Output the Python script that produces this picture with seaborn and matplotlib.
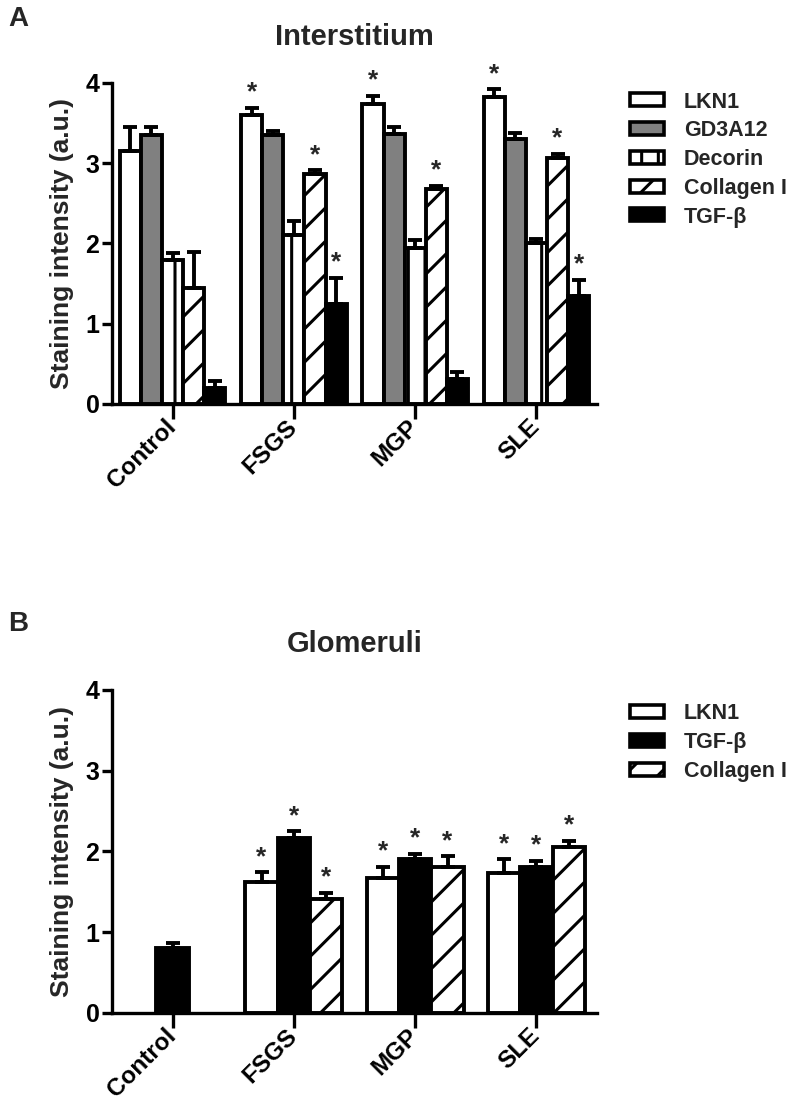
import numpy as np
import pandas as pd
import matplotlib
matplotlib.use("Agg")
import matplotlib.pyplot as plt
from matplotlib.patches import Patch
import seaborn as sns

# Panel A: interstitium
groups = ["Control", "FSGS", "MGP", "SLE"]
markers_a = ["LKN1", "GD3A12", "Decorin", "Collagen I", "TGF-β"]
lkn1_a = [3.15, 3.60, 3.74, 3.83]
lkn1_a_err = [0.30, 0.09, 0.10, 0.09]
gd3a12_a = [3.35, 3.35, 3.37, 3.30]
gd3a12_a_err = [0.10, 0.05, 0.08, 0.08]
decorin_a = [1.80, 2.10, 1.94, 2.00]
decorin_a_err = [0.08, 0.18, 0.10, 0.06]
collagen_a = [1.45, 2.87, 2.68, 3.07]
collagen_a_err = [0.44, 0.04, 0.04, 0.05]
tgf_a = [0.20, 1.25, 0.31, 1.35]
tgf_a_err = [0.09, 0.32, 0.09, 0.20]
# significance flags (1 = asterisk)
sig_a = {
    "LKN1": [0, 1, 1, 1],
    "GD3A12": [0, 0, 0, 0],
    "Decorin": [0, 0, 0, 0],
    "Collagen I": [0, 1, 1, 1],
    "TGF-β": [0, 1, 0, 1],
}

# Panel B: glomeruli (no LKN1 / Collagen I for control)
markers_b = ["LKN1", "TGF-β", "Collagen I"]
lkn1_b = [np.nan, 1.62, 1.67, 1.73]
lkn1_b_err = [np.nan, 0.12, 0.14, 0.17]
tgf_b = [0.80, 2.17, 1.90, 1.80]
tgf_b_err = [0.07, 0.08, 0.07, 0.08]
collagen_b = [np.nan, 1.41, 1.80, 2.05]
collagen_b_err = [np.nan, 0.08, 0.14, 0.08]
sig_b = {
    "LKN1": [0, 1, 1, 1],
    "TGF-β": [0, 1, 1, 1],
    "Collagen I": [0, 1, 1, 1],
}

styles = {
    "LKN1": dict(facecolor="white", hatch=""),
    "GD3A12": dict(facecolor="#808080", hatch=""),
    "Decorin": dict(facecolor="white", hatch="|"),
    "Collagen I": dict(facecolor="white", hatch="/"),
    "TGF-β": dict(facecolor="black", hatch=""),
}


def build_frame(markers, values, errors, sig):
    rows = []
    for m, vals, errs in zip(markers, values, errors):
        for g, v, e, s in zip(groups, vals, errs, sig[m]):
            if np.isnan(v):
                continue
            rows.append({"group": g, "marker": m, "value": v, "err": e, "sig": s})
    return pd.DataFrame(rows)


df_a = build_frame(markers_a,
                   [lkn1_a, gd3a12_a, decorin_a, collagen_a, tgf_a],
                   [lkn1_a_err, gd3a12_a_err, decorin_a_err, collagen_a_err, tgf_a_err],
                   sig_a)
df_b = build_frame(markers_b,
                   [lkn1_b, tgf_b, collagen_b],
                   [lkn1_b_err, tgf_b_err, collagen_b_err],
                   sig_b)

sns.set_theme(style="ticks")
plt.rcParams["font.family"] = ["Liberation Sans", "DejaVu Sans"]
plt.rcParams["font.weight"] = "bold"
plt.rcParams["hatch.linewidth"] = 2.2
plt.rcParams["hatch.color"] = "black"

fig = plt.figure(figsize=(7.94, 11.05), dpi=100)
ax_a = fig.add_axes([0.141, 0.6344, 0.611, 0.2905])
ax_b = fig.add_axes([0.141, 0.0835, 0.611, 0.2921])


def draw_panel(ax, df, markers, width, title, legend_y):
    sns.barplot(data=df, x="group", y="value", hue="marker", order=groups,
                hue_order=markers, errorbar=None, width=width, dodge=True,
                legend=False, ax=ax)
    for cont, m in zip(ax.containers, markers):
        sub = df[df["marker"] == m].set_index("group")
        for bar in cont:
            bar.set_facecolor(styles[m]["facecolor"])
            bar.set_hatch(styles[m]["hatch"])
            bar.set_edgecolor("black")
            bar.set_linewidth(2.8)
            xc = bar.get_x() + bar.get_width() / 2
            g = groups[int(round(xc))]
            row = sub.loc[g]
            top = row["value"] + row["err"]
            ax.errorbar(xc, row["value"], yerr=[[0], [row["err"]]], fmt="none",
                        ecolor="black", elinewidth=2.8, capsize=5, capthick=2.8,
                        zorder=1)
            if row["sig"]:
                ax.text(xc, top + 0.04, "*", ha="center", va="bottom",
                        fontsize=19, fontweight="bold")
    ax.set_xlim(-0.5, 3.5)
    ax.set_ylim(0, 4)
    ax.set_yticks([0, 1, 2, 3, 4])
    ax.set_xlabel("")
    ax.set_ylabel("Staining intensity (a.u.)", fontsize=19, fontweight="bold",
                  labelpad=8)
    ax.set_title(title, fontsize=21, fontweight="bold", pad=27)
    sns.despine(ax=ax)
    for s in ["left", "bottom"]:
        ax.spines[s].set_linewidth(2.4)
        ax.spines[s].set_color("black")
    ax.tick_params(axis="y", length=7, width=2.4, labelsize=18, pad=2, colors="black")
    ax.tick_params(axis="x", length=11, width=2.4, labelsize=17.5, pad=3, colors="black")
    for lab in ax.get_xticklabels():
        lab.set_rotation(45)
        lab.set_ha("right")
        lab.set_va("center")
        lab.set_rotation_mode("anchor")
        lab.set_fontweight("bold")
    for lab in ax.get_yticklabels():
        lab.set_fontweight("bold")
    handles = [Patch(facecolor=styles[m]["facecolor"], hatch=styles[m]["hatch"],
                     edgecolor="black", linewidth=2.6, label=m) for m in markers]
    ax.legend(handles=handles, loc="upper left", bbox_to_anchor=(1.05, legend_y),
              frameon=False, fontsize=15.5, handlelength=1.6, handleheight=0.55,
              labelspacing=0.36, handletextpad=0.9, borderaxespad=0)


draw_panel(ax_a, df_a, markers_a, 0.87, "Interstitium", 1.0)
draw_panel(ax_b, df_b, markers_b, 0.8, "Glomeruli", 0.985)

fig.text(0.01, 0.995, "A", fontsize=20, fontweight="bold", va="top")
fig.text(0.01, 0.447, "B", fontsize=20, fontweight="bold", va="top")

fig.savefig("out.png", dpi=100)
